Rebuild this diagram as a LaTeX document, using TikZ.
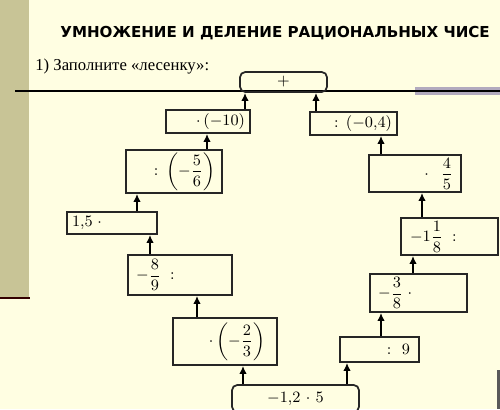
\documentclass[tikz,border=0pt]{standalone}
\usepackage{fontspec}
\setmainfont{Liberation Serif}
\newfontfamily\titlefont{DejaVu Sans}
\usepackage{amsmath}
\usetikzlibrary{arrows.meta}
\definecolor{paper}{RGB}{255,254,226}
\definecolor{stripe}{RGB}{200,196,150}
\definecolor{barcol}{RGB}{178,170,190}

\begin{document}
\begin{tikzpicture}[
	x=0.02cm, y=-0.02cm,
	stairbox/.style={draw=black!85, line width=1pt, inner xsep=0.1cm, inner ysep=0pt, font=\fontsize{9}{10}\selectfont},
	endbox/.style={stairbox, rounded corners=3pt},
	arr/.style={-{Latex[length=1.6mm, width=1.5mm]}, line width=0.9pt}
	]
	\useasboundingbox (0,0) rectangle (500,409);
	\clip (0,0) rectangle (500,409);
	% page background
	\fill[paper] (0,0) rectangle (500,409);
	\fill[stripe] (0,0) rectangle (29,298);
	\draw[line width=1.3pt, black!80!red] (0,298) -- (30,298);
	\fill[barcol] (415,87) rectangle (500,95);
	\draw[black, line width=0.6pt] (15,91) -- (500,91);
	\fill[black!65] (497,370) rectangle (500,409);
	% headings
	\node[anchor=base west, inner sep=0pt, font=\titlefont\bfseries\fontsize{8.6}{10}\selectfont] (title) at (60,37) {УМНОЖЕНИЕ И ДЕЛЕНИЕ РАЦИОНАЛЬНЫХ ЧИСЕ};
	\node[anchor=base west, inner sep=0pt, font=\fontsize{9.5}{11}\selectfont] (task) at (35,70) {1) Заполните «лесенку»:};
	% top of the ladder
	\node[endbox, text width=1.54cm, align=center, minimum height=0.4cm] (top) at (283.5,82) {$+$};
	% left branch
	\node[stairbox, text width=1.48cm, align=right, minimum height=0.46cm] (m10) at (208,121.5) {$\cdot\,(-10)$};
	\node[stairbox, text width=1.72cm, align=right, minimum height=0.86cm] (d56) at (174,171.5) {$:\left(-\dfrac{5}{6}\right)\hspace{0.04cm}$};
	\node[stairbox, text width=1.60cm, align=left, minimum height=0.44cm] (m15) at (112,223) {$1{,}5\;\cdot$};
	\node[stairbox, text width=1.88cm, align=left, minimum height=0.8cm] (d89) at (180,275) {$\hspace{0.06cm}-\dfrac{8}{9}\;:$};
	\node[stairbox, text width=1.88cm, align=right, minimum height=0.94cm] (m23) at (225,341.5) {$\cdot\left(-\dfrac{2}{3}\right)\hspace{0.14cm}$};
	% bottom of the ladder
	\node[endbox, text width=2.34cm, align=center, minimum height=0.54cm] (start) at (295.5,398.5) {$-1{,}2\cdot 5$};
	% right branch
	\node[stairbox, text width=1.38cm, align=right, minimum height=0.5cm] (d9) at (379.5,349.5) {$:9\hspace{0.08cm}$};
	\node[stairbox, text width=1.74cm, align=left, minimum height=0.76cm] (m38) at (418.5,293) {$\hspace{0.06cm}-\dfrac{3}{8}\;\cdot$};
	\node[stairbox, text width=1.74cm, align=left, minimum height=0.74cm] (d118) at (449.5,236.5) {$\hspace{0.08cm}-1\dfrac{1}{8}\;:$};
	\node[stairbox, text width=1.64cm, align=right, minimum height=0.74cm] (m45) at (415,173.5) {$\cdot\;\dfrac{4}{5}\hspace{0.06cm}$};
	\node[stairbox, text width=1.54cm, align=right, minimum height=0.46cm] (d04) at (353.5,123.5) {$:(-0{,}4)$};
	% arrows, climbing up
	\draw[arr] (m10.north -| 245,0) -- (top.south -| 245,0);
	\draw[arr] (d04.north -| 316,0) -- (top.south -| 316,0);
	\draw[arr] (d56.north -| 207,0) -- (m10.south -| 207,0);
	\draw[arr] (m15.north -| 137,0) -- (d56.south -| 137,0);
	\draw[arr] (d89.north -| 150,0) -- (m15.south -| 150,0);
	\draw[arr] (m23.north -| 197,0) -- (d89.south -| 197,0);
	\draw[arr] (start.north -| 243,0) -- (m23.south -| 243,0);
	\draw[arr] (start.north -| 347,0) -- (d9.south -| 347,0);
	\draw[arr] (d9.north -| 381,0) -- (m38.south -| 381,0);
	\draw[arr] (m38.north -| 413,0) -- (d118.south -| 413,0);
	\draw[arr] (d118.north -| 422,0) -- (m45.south -| 422,0);
	\draw[arr] (m45.north -| 381,0) -- (d04.south -| 381,0);
\end{tikzpicture}
\end{document}
